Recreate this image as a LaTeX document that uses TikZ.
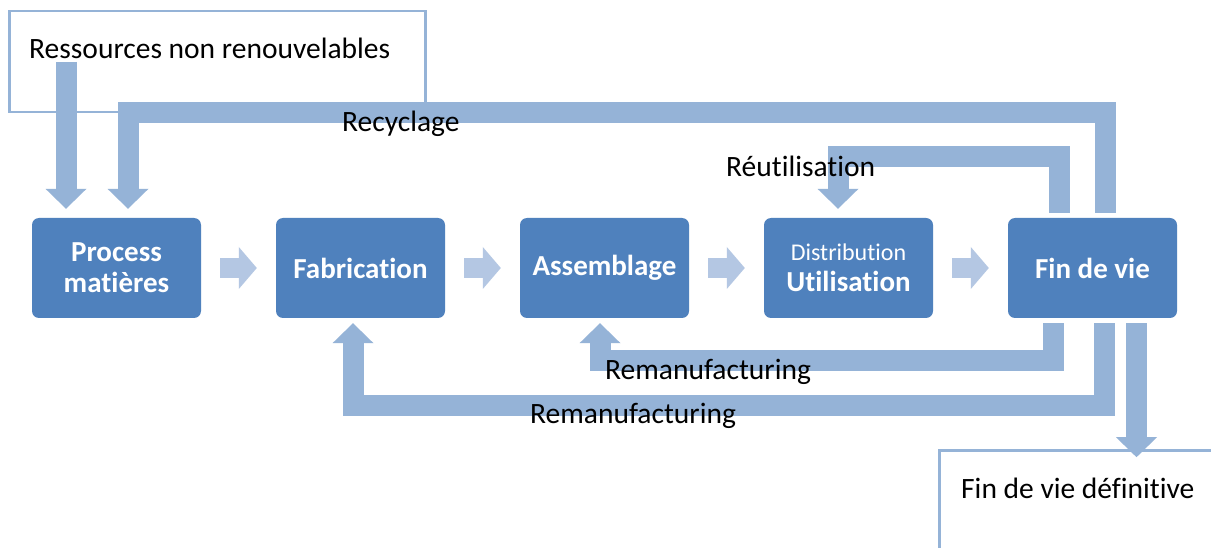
\documentclass[tikz,border=0pt]{standalone}
\usepackage{fontspec}
\setmainfont{Carlito}[Ligatures=NoCommon]
\usetikzlibrary{arrows.meta}
\definecolor{boxblue}{HTML}{4F81BD}
\definecolor{barblue}{HTML}{95B3D7}
\definecolor{stepblue}{HTML}{B4C7E3}
\begin{document}
\begin{tikzpicture}[x=1pt,y=-1pt,
  stage/.style={fill=boxblue, rounded corners=7pt, minimum width=169pt, minimum height=100pt,
    inner sep=0pt, text=white, font=\fontsize{29}{31}\selectfont\bfseries, align=center},
  frame/.style={draw=barblue, line width=2.5pt, inner sep=0pt, anchor=north west},
  lbl/.style={font=\fontsize{29.5}{31}\selectfont, inner sep=0pt, anchor=base west},
  flow/.style={draw=barblue, line width=21pt, line join=miter,
    -{Triangle[width=41pt,length=20pt,line width=0pt]}},
  stepflow/.style={draw=stepblue, line width=20pt,
    -{Triangle[width=42pt,length=18pt,line width=0pt]}},
]
\clip (0,0) rectangle (1211,548);
\fill[white] (0,0) rectangle (1211,548);

% frames
\node[frame, minimum width=416pt, minimum height=101pt] (rbox) at (8,10) {};
\node[frame, minimum width=300pt, minimum height=150pt] (fbox) at (938,449) {};

% stages
\node[stage] (p) at (116.5,268) {Process\\matières};
\node[stage] (f) at (360.5,268) {Fabrication};
\node[stage] (a) at (604.5,268) {Assemblage};
\node[stage] (d) at (848.5,268) {{\fontsize{24}{26}\selectfont\mdseries Distribution}\\Utilisation};
\node[stage] (e) at (1092.5,268) {Fin de vie};

% small step arrows
\draw[stepflow] ([xshift=19pt]p.east) -- ([xshift=-19pt]f.west);
\draw[stepflow] ([xshift=19pt]f.east) -- ([xshift=-19pt]a.west);
\draw[stepflow] ([xshift=19pt]a.east) -- ([xshift=-19pt]d.west);
\draw[stepflow] ([xshift=19pt]d.east) -- ([xshift=-19pt]e.west);

% big flow arrows
\draw[flow] ([shift={(58,52)}]rbox.north west) -- ([shift={(-50.5,-9)}]p.north);
\draw[flow] ([shift={(13,-5)}]e.north) -- ++(0,-100.5) -| ([shift={(11.5,-9)}]p.north);
\draw[flow] ([shift={(-33.5,-5)}]e.north) -- ++(0,-56) -| ([shift={(-10.5,-9)}]d.north);
\draw[flow] ([shift={(-39.5,5)}]e.south) -- ++(0,37.5) -| ([shift={(-4.5,5)}]a.south);
\draw[flow] ([shift={(12,5)}]e.south) -- ++(0,82) -| ([shift={(-7.5,5)}]f.south);
\draw[flow] ([shift={(44,5)}]e.south) -- ++(0,134);

% labels
\node[lbl] (tres) at (29,59) {Ressources non renouvelables};
\node[lbl] (trec) at (342,132) {Recyclage};
\node[lbl] (treu) at (726,177) {Réutilisation};
\node[lbl] (trem1) at (605,379) {Remanufacturing};
\node[lbl] (trem2) at (530,423) {Remanufacturing};
\node[lbl] (tfin) at (961,498) {Fin de vie définitive};
\end{tikzpicture}
\end{document}
